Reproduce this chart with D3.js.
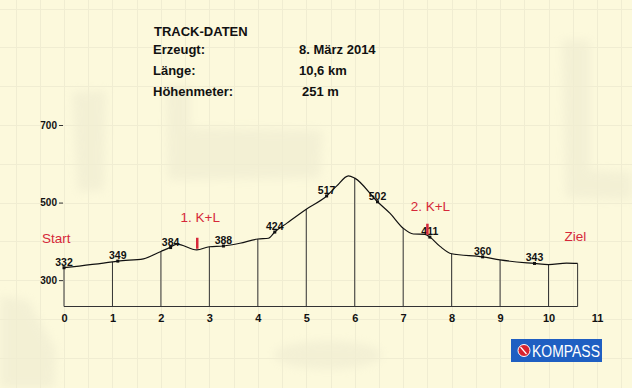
<!DOCTYPE html>
<html>
<head>
<meta charset="utf-8">
<script src="https://cdn.jsdelivr.net/npm/d3@7"></script>
<style>
  html, body { margin: 0; padding: 0; background: #fcf9dc; }
  svg { display: block; font-family: "Liberation Sans", Arial, sans-serif; }
</style>
</head>
<body>
<div id="chart"></div>
<script>
// Elevation profile (km along track -> metres)
const profileKm = [0, 1, 1.11, 1.64, 2, 2.2, 2.33, 2.74, 3, 3.29, 3.63, 4, 4.22, 4.35, 4.6, 5, 5.42, 5.63, 5.87, 6, 6.47, 6.73, 7, 7.21, 7.45, 7.55, 7.76, 8, 8.64, 9, 9.71, 10, 10.37, 10.6];
const profileElev = [332, 347, 349, 355, 374, 385, 393, 378, 386, 388, 395, 406, 408, 424, 447, 483, 517, 543, 569, 563, 502, 472, 434, 419, 418, 411, 387, 368, 360, 352, 343, 340, 344, 343];

// labelled waypoints
const markerKm = [0, 1.11, 2.2, 3.29, 4.35, 5.42, 6.47, 7.55, 8.64, 9.71];
const markerElev = [332, 349, 384, 388, 424, 517, 502, 411, 360, 343];

// control points (K+L)
const stopKm = [2.75, 7.5];
const stopLabels = ["1. K+L", "2. K+L"];

const xTicks = [0, 1, 2, 3, 4, 5, 6, 7, 8, 9, 10, 11];
const yTicks = [300, 500, 700];

const infoLabels = ["Erzeugt:", "Länge:", "Höhenmeter:"];
const infoValues = ["8. März 2014", "10,6 km", "251 m"];

const W = 632, H = 388;
const red = "#d6283a";

const svg = d3.select("#chart").append("svg")
  .attr("width", W)
  .attr("height", H);

svg.append("rect").attr("width", W).attr("height", H).attr("fill", "#fcf9dc");

// scales
const x = d3.scaleLinear().domain([0, 11]).range([64, 597]);
const y = d3.scaleLinear().domain([232, 700]).range([306.5, 125]);

// scanner smudges on the paper
const defs = svg.append("defs");
defs.append("filter").attr("id", "smudge")
  .attr("x", "-50%").attr("y", "-50%").attr("width", "200%").attr("height", "200%")
  .append("feGaussianBlur").attr("stdDeviation", 5);
const smudges = svg.append("g").attr("filter", "url(#smudge)").attr("fill", "#d9d6c0").attr("opacity", 0.25);
smudges.append("path").attr("d", "M72,92 L106,90 L104,190 L78,192 Z");
smudges.append("path").attr("d", "M166,86 L190,86 L190,128 L322,130 L320,178 L168,180 Z");
smudges.append("path").attr("d", "M562,40 L590,40 L590,170 L632,172 L632,200 L566,198 Z");
smudges.append("path").attr("d", "M0,296 L28,300 L56,350 L54,388 L0,388 Z");
smudges.append("ellipse").attr("cx", 328).attr("cy", 355).attr("rx", 54).attr("ry", 14);

// faint paper grid
const grid = svg.append("g").attr("stroke", "#f0edd2").attr("stroke-width", 1);
grid.selectAll(".gv")
  .data(d3.range(-3, 27).map(i => i * 0.5))
  .enter().append("line")
  .attr("x1", d => Math.round(x(d)) + 0.5).attr("x2", d => Math.round(x(d)) + 0.5)
  .attr("y1", 0).attr("y2", H);
grid.selectAll(".gh")
  .data(d3.range(0, 11).map(i => i * 100))
  .enter().append("line")
  .attr("y1", d => Math.round(y(d)) + 0.5).attr("y2", d => Math.round(y(d)) + 0.5)
  .attr("x1", 0).attr("x2", W);

// header block
const head = svg.append("g")
  .style("font-size", "13px")
  .style("font-weight", "bold")
  .attr("fill", "#111");
head.append("text").attr("x", 154).attr("y", 36).text("TRACK-DATEN");
const rowsY = [54, 75, 96];
head.selectAll(".lab")
  .data(infoLabels)
  .enter().append("text")
  .attr("x", 153).attr("y", (d, i) => rowsY[i])
  .text(d => d);
head.selectAll(".val")
  .data(infoValues)
  .enter().append("text")
  .attr("x", (d, i) => i === 2 ? 302 : 299).attr("y", (d, i) => rowsY[i])
  .text(d => d);

// lookup elevation at profile knot
const elevAt = km => profileElev[profileKm.indexOf(km)];
const base = y.domain()[0];

// vertical km lines
const verts = d3.range(0, 11).concat([10.6]);
svg.append("g").selectAll("line")
  .data(verts)
  .enter().append("line")
  .attr("x1", d => x(d)).attr("x2", d => x(d))
  .attr("y1", y(base)).attr("y2", d => y(elevAt(d)))
  .attr("stroke", "#333")
  .attr("stroke-width", 1);

// baseline
svg.append("line")
  .attr("x1", x(0)).attr("x2", x(10.6))
  .attr("y1", y(base)).attr("y2", y(base))
  .attr("stroke", "#333").attr("stroke-width", 1.2);

// profile line
const line = d3.line()
  .x((d, i) => x(profileKm[i]))
  .y(d => y(d))
  .curve(d3.curveMonotoneX);

svg.append("path")
  .datum(profileElev)
  .attr("d", line)
  .attr("fill", "none")
  .attr("stroke", "#111")
  .attr("stroke-width", 1.2);

// waypoint markers and labels
const markers = markerKm.map((k, i) => ({ km: k, elev: markerElev[i] }));
svg.append("g").selectAll("rect")
  .data(markers)
  .enter().append("rect")
  .attr("x", d => x(d.km) - 1.5).attr("y", d => y(d.elev) - 1.5)
  .attr("width", 3).attr("height", 3)
  .attr("fill", "#111");
svg.append("g").selectAll("text")
  .data(markers)
  .enter().append("text")
  .attr("x", d => x(d.km))
  .attr("y", d => y(d.elev) - 2)
  .attr("text-anchor", "middle")
  .style("font-size", "10.5px")
  .style("font-weight", "bold")
  .attr("fill", "#111")
  .text(d => d.elev);

// K+L markers
const stops = stopKm.map((k, i) => {
  const j = d3.bisectLeft(profileKm, k);
  const t = (k - profileKm[j - 1]) / (profileKm[j] - profileKm[j - 1]);
  return { km: k, label: stopLabels[i], elev: profileElev[j - 1] + t * (profileElev[j] - profileElev[j - 1]) };
});
svg.append("g").selectAll("line")
  .data(stops)
  .enter().append("line")
  .attr("x1", d => x(d.km)).attr("x2", d => x(d.km))
  .attr("y1", d => y(d.elev) - 1).attr("y2", d => y(d.elev) - 12)
  .attr("stroke", red).attr("stroke-width", 2.5);
svg.append("g").selectAll("text")
  .data(stops)
  .enter().append("text")
  .attr("x", d => x(d.km) + 3)
  .attr("y", (d, i) => y(d.elev) - (i === 0 ? 28 : 25))
  .attr("text-anchor", "middle")
  .style("font-size", "13.5px")
  .attr("fill", red)
  .text(d => d.label);

// start / finish
svg.append("text")
  .attr("x", x(0) - 22).attr("y", 243)
  .style("font-size", "13.5px").attr("fill", red)
  .text("Start");
svg.append("text")
  .attr("x", x(10.6) - 13).attr("y", 241)
  .style("font-size", "13.5px").attr("fill", red)
  .text("Ziel");

// x axis
const xAxis = svg.append("g")
  .attr("transform", `translate(0,${y(base)})`)
  .call(d3.axisBottom(x).tickValues(xTicks).tickSize(0).tickPadding(8));
xAxis.select(".domain").remove();
xAxis.selectAll("text")
  .style("font-size", "11px")
  .style("font-weight", "bold")
  .style("font-family", "Liberation Sans, Arial, sans-serif")
  .attr("fill", "#111");

// y axis
const yAxis = svg.append("g")
  .attr("transform", "translate(63,0)")
  .call(d3.axisLeft(y).tickValues(yTicks).tickSize(4).tickPadding(2));
yAxis.select(".domain").remove();
yAxis.selectAll("line").attr("stroke", "#333");
yAxis.selectAll("text")
  .style("font-size", "10px")
  .style("font-weight", "bold")
  .style("font-family", "Liberation Sans, Arial, sans-serif")
  .attr("fill", "#111");

// KOMPASS badge
const logo = svg.append("g").attr("transform", "translate(511,339)");
logo.append("rect").attr("width", 91).attr("height", 23).attr("fill", "#1f5fc2");
logo.append("circle").attr("cx", 13).attr("cy", 11.5).attr("r", 6)
  .attr("fill", "#d8232f").attr("stroke", "#fff").attr("stroke-width", 1);
logo.append("path").attr("d", "M9.5,8 L15.5,15 L12.5,11.5 Z")
  .attr("fill", "#fff").attr("stroke", "#fff").attr("stroke-width", 1.2);
logo.append("text")
  .attr("x", 21).attr("y", 18)
  .attr("textLength", 68).attr("lengthAdjust", "spacingAndGlyphs")
  .style("font-size", "16px")
  .attr("fill", "#fff")
  .text("KOMPASS");
</script>
</body>
</html>
